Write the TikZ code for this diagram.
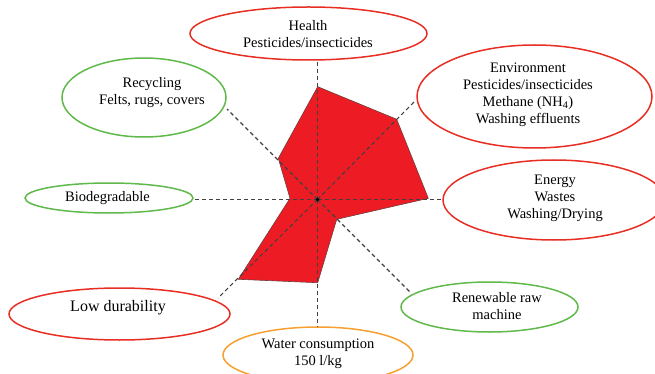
\documentclass[tikz,border=0pt]{standalone}
\usepackage{fontspec}
\setmainfont{Liberation Serif}
\usetikzlibrary{shapes.geometric}
\definecolor{ered}{RGB}{232,45,35}
\definecolor{egreen}{RGB}{95,185,75}
\definecolor{eorange}{RGB}{247,160,50}
\definecolor{pfill}{RGB}{237,28,36}
\definecolor{pline}{RGB}{110,60,60}
\definecolor{spoke}{RGB}{65,65,65}
\tikzset{
  oval/.style={ellipse, draw, line width=1.5pt, inner sep=0pt, fill=none},
  redoval/.style={oval, draw=ered},
  greenoval/.style={oval, draw=egreen},
  orangeoval/.style={oval, draw=eorange},
  lbl/.style={align=center, inner sep=0pt, text=black, font=\fontsize{14.5}{17}\selectfont},
  spokeline/.style={draw=spoke, line width=1.1pt, dash pattern=on 4pt off 3pt},
}
\begin{document}
\begin{tikzpicture}[x=1pt,y=-1pt]
\useasboundingbox (0,0) rectangle (655,374);
% ovals
\node[redoval, minimum width=237pt, minimum height=53pt] (health) at (308.5,33.5) {};
\node[redoval, minimum width=235pt, minimum height=103pt] (env) at (534.5,96.5) {};
\node[greenoval, minimum width=164pt, minimum height=79pt] (recyc) at (144,97.5) {};
\node[greenoval, minimum width=168pt, minimum height=30pt] (biod) at (109,198) {};
\node[redoval, minimum width=222pt, minimum height=80pt] (energy) at (554,200) {};
\node[greenoval, minimum width=177pt, minimum height=50pt] (renew) at (489.5,307) {};
\node[redoval, minimum width=221pt, minimum height=52pt] (lowdur) at (119.5,314) {};
\node[orangeoval, minimum width=190pt, minimum height=56pt] (water) at (318,355) {};
% labels
\node[lbl] (healthT) at (308,34) {Health\\Pesticides/insecticides};
\node[lbl] (envT) at (528,95) {Environment\\Pesticides/insecticides\\Methane (NH\textsubscript{4})\\Washing effluents};
\node[lbl] (recycT) at (152,93) {Recycling\\Felts, rugs, covers};
\node[lbl] (biodT) at (107.5,198) {Biodegradable};
\node[lbl] (energyT) at (555,198) {Energy\\Wastes\\Washing/Drying};
\node[lbl] (renewT) at (497,306) {Renewable raw\\machine};
\node[lbl, font=\fontsize{16}{19}\selectfont] (lowdurT) at (118,308) {Low durability};
\node[lbl] (waterT) at (318,354) {Water consumption\\150 l/kg};
% radar polygon
\coordinate (c) at (317.5,199.5);
\coordinate (p1) at (317.7,86.7);
\coordinate (p2) at (396.7,119.3);
\coordinate (p3) at (428.3,198.3);
\coordinate (p4) at (336.7,219.3);
\coordinate (p5) at (317.7,282.7);
\coordinate (p6) at (238.3,279.3);
\coordinate (p7) at (290,198.3);
\coordinate (p8) at (278.3,158.3);
\fill[pfill, draw=pline, line width=0.6pt] (p1) -- (p2) -- (p3) -- (p4) -- (p5) -- (p6) -- (p7) -- (p8) -- cycle;
% spokes
\coordinate (sN) at (317.5,60);
\coordinate (sNE) at (415,101);
\coordinate (sE) at (443,199.5);
\coordinate (sSE) at (411,293);
\coordinate (sS) at (317.5,327);
\coordinate (sSW) at (218,298);
\coordinate (sW) at (193,199.5);
\coordinate (sNW) at (227,109);
\foreach \e in {sN,sNE,sE,sSE,sS,sSW,sW,sNW} \draw[spokeline] (c) -- (\e);
\fill[black] (c) circle (1.8pt);
\end{tikzpicture}
\end{document}
